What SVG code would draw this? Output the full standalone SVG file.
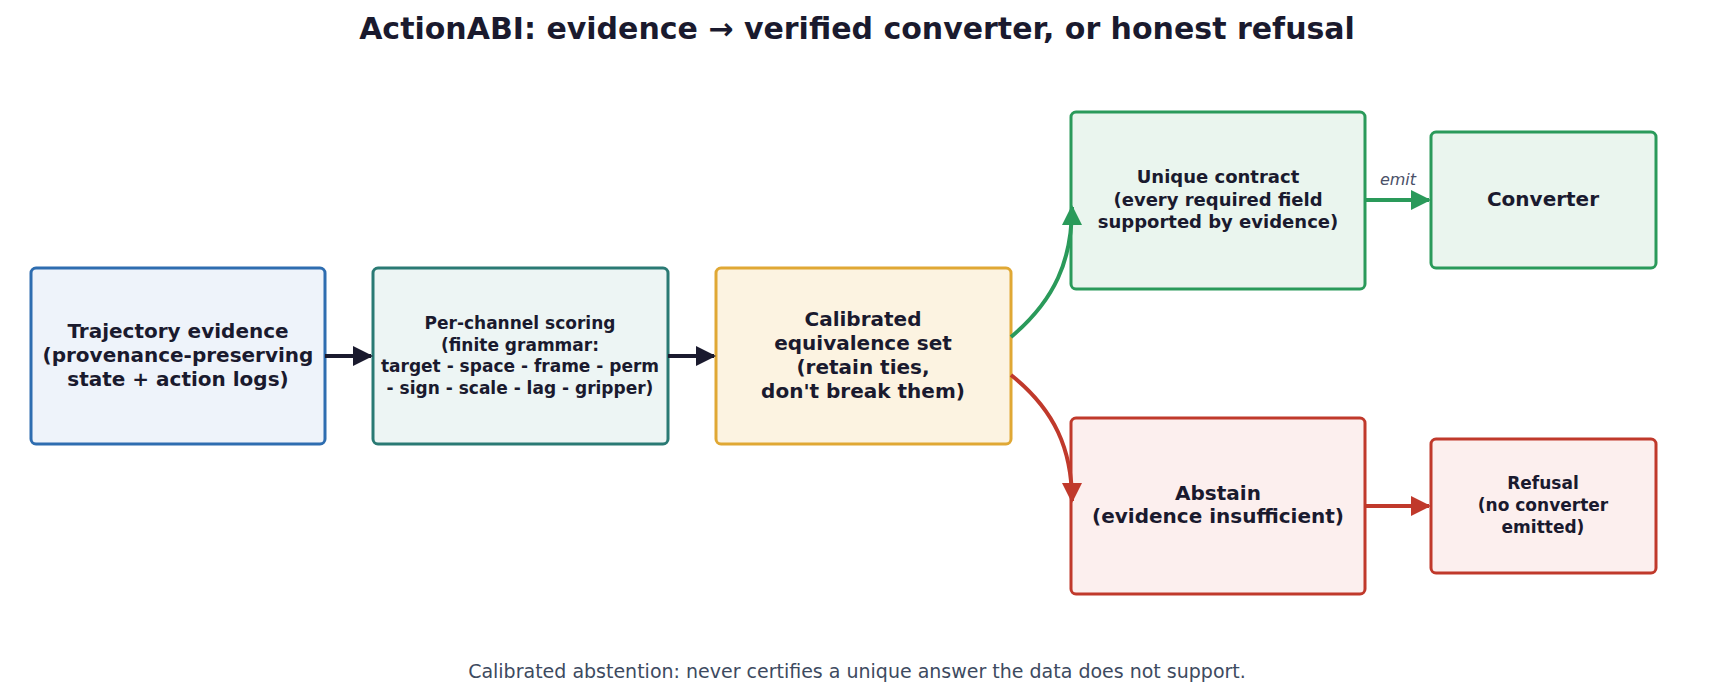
<svg xmlns="http://www.w3.org/2000/svg" width="1715" height="697" viewBox="0 0 1715 697">
<defs>
<style>
text{font-family:"DejaVu Sans",sans-serif;text-anchor:middle;fill:#1a1a2e}
.b{font-weight:bold}
rect{stroke-width:3}
</style>
<marker id="mk" viewBox="0 0 10 10" refX="9" refY="5" markerWidth="5" markerHeight="5" orient="auto" markerUnits="strokeWidth"><path d="M0,0L10,5L0,10z" fill="#1a1a2e"/></marker>
<marker id="mg" viewBox="0 0 10 10" refX="9" refY="5" markerWidth="5" markerHeight="5" orient="auto" markerUnits="strokeWidth"><path d="M0,0L10,5L0,10z" fill="#2a9a5a"/></marker>
<marker id="mr" viewBox="0 0 10 10" refX="9" refY="5" markerWidth="5" markerHeight="5" orient="auto" markerUnits="strokeWidth"><path d="M0,0L10,5L0,10z" fill="#c0392b"/></marker>
</defs>
<rect width="1715" height="697" fill="#fff" stroke="none"/>
<text x="857" y="39" class="b" font-size="30">ActionABI: evidence → verified converter, or honest refusal</text>
<g id="n1"><rect x="31" y="268" width="294" height="176" rx="5" fill="#eef3fa" stroke="#2e6db0"/>
<text class="b" font-size="20" x="178" y="338">Trajectory evidence</text><text class="b" font-size="20" x="178" y="362">(provenance-preserving</text><text class="b" font-size="20" x="178" y="386">state + action logs)</text></g>
<g id="n2"><rect x="373" y="268" width="295" height="176" rx="5" fill="#edf5f4" stroke="#2a7a74"/>
<text class="b" font-size="17" x="520" y="329">Per-channel scoring</text><text class="b" font-size="17" x="520" y="351">(finite grammar:</text><text class="b" font-size="17" x="520" y="372">target - space - frame - perm</text><text class="b" font-size="17" x="520" y="394">- sign - scale - lag - gripper)</text></g>
<g id="n3"><rect x="716" y="268" width="295" height="176" rx="5" fill="#fcf3e1" stroke="#e0a834"/>
<text class="b" font-size="20" x="863" y="326">Calibrated</text><text class="b" font-size="20" x="863" y="350">equivalence set</text><text class="b" font-size="20" x="863" y="374">(retain ties,</text><text class="b" font-size="20" x="863" y="398">don't break them)</text></g>
<g id="n4"><rect x="1071" y="112" width="294" height="177" rx="5" fill="#eaf5ee" stroke="#2a9a5a"/>
<text class="b" font-size="18" x="1218" y="183">Unique contract</text><text class="b" font-size="18" x="1218" y="206">(every required field</text><text class="b" font-size="18" x="1218" y="228">supported by evidence)</text></g>
<g id="n5"><rect x="1431" y="132" width="225" height="136" rx="5" fill="#eaf5ee" stroke="#2a9a5a"/>
<text class="b" font-size="20" x="1543" y="206">Converter</text></g>
<g id="n6"><rect x="1071" y="418" width="294" height="176" rx="5" fill="#fcefee" stroke="#c0392b"/>
<text class="b" font-size="20" x="1218" y="500">Abstain</text><text class="b" font-size="20" x="1218" y="523">(evidence insufficient)</text></g>
<g id="n7"><rect x="1431" y="439" width="225" height="134" rx="5" fill="#fcefee" stroke="#c0392b"/>
<text class="b" font-size="17" x="1543" y="489">Refusal</text><text class="b" font-size="17" x="1543" y="511">(no converter</text><text class="b" font-size="17" x="1543" y="533">emitted)</text></g>
<g id="edges" fill="none" stroke-width="4">
<path d="M325,356H371" stroke="#1a1a2e" marker-end="url(#mk)"/>
<path d="M668,356H714" stroke="#1a1a2e" marker-end="url(#mk)"/>
<path d="M1011,337C1055,300 1072,260 1072,207" stroke="#2a9a5a" marker-end="url(#mg)"/>
<path d="M1011,375C1055,410 1072,450 1072,501" stroke="#c0392b" marker-end="url(#mr)"/>
<path d="M1365,200H1429" stroke="#2a9a5a" marker-end="url(#mg)"/>
<path d="M1365,506H1429" stroke="#c0392b" marker-end="url(#mr)"/>
</g>
<text x="1398" y="185" font-size="16" font-style="italic" style="fill:#4a5068">emit</text>
<text x="857" y="678" font-size="19" style="fill:#3d4a60">Calibrated abstention: never certifies a unique answer the data does not support.</text>
</svg>
